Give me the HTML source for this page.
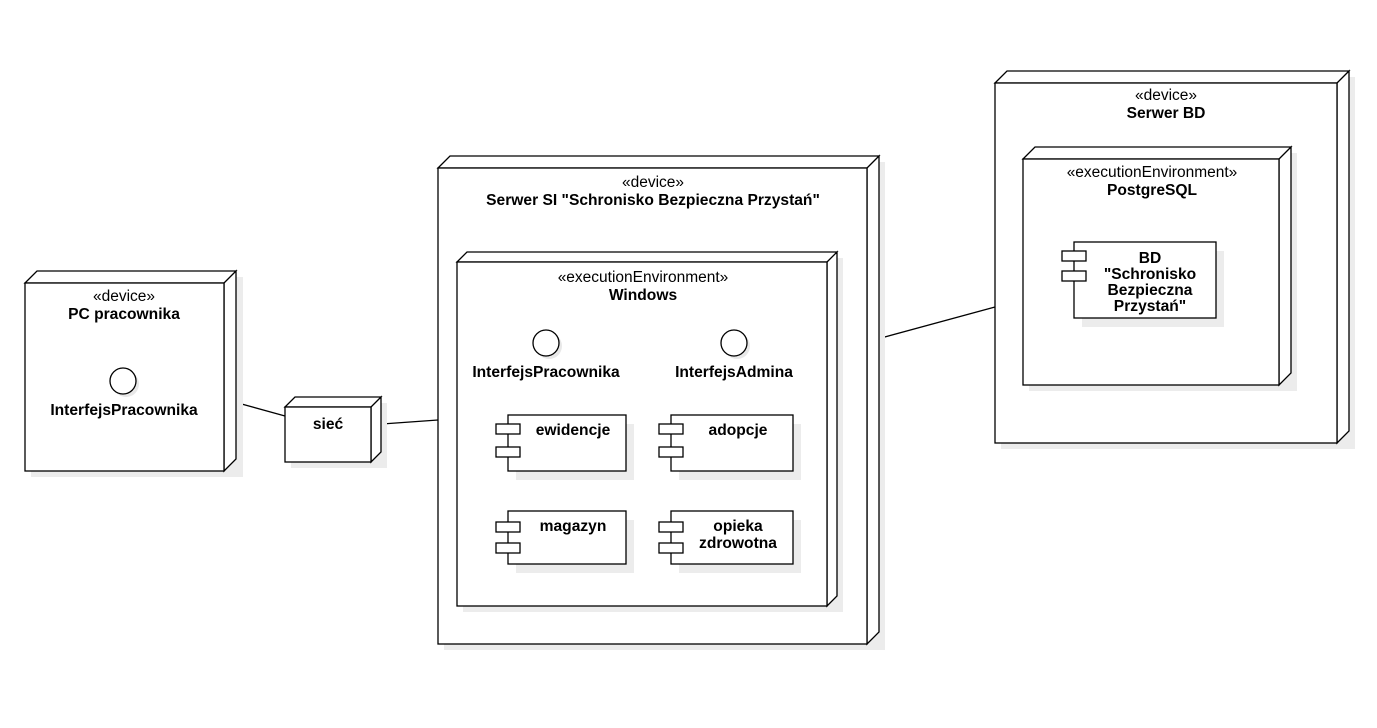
<!DOCTYPE html>
<html><head><meta charset="utf-8"><style>
html,body{margin:0;padding:0;background:#fff;}
svg{display:block;font-family:"Liberation Sans",Arial,sans-serif;}
.n{fill:#fff;stroke:#000;stroke-width:1.3;}
.c{fill:#fff;stroke:#000;stroke-width:1.3;}
.s{fill:#ececec;stroke:none;}
.st{font-size:15.5px;fill:#000;text-anchor:middle;}
.b{font-size:15.6px;font-weight:bold;fill:#000;text-anchor:middle;}
</style></head><body>
<svg width="1377" height="728" viewBox="0 0 1377 728">
<line x1="238" y1="403" x2="285" y2="416" stroke="#000" stroke-width="1.3"/>
<line x1="382" y1="424" x2="438" y2="420" stroke="#000" stroke-width="1.3"/>
<line x1="881" y1="338" x2="995" y2="307" stroke="#000" stroke-width="1.3"/>

<rect class="s" x="31" y="277" width="212" height="200"/>
<path class="n" d="M25,283 L37,271 L236,271 L224,283 Z M224,283 L236,271 L236,459 L224,471 Z"/>
<rect class="n" x="25" y="283" width="199" height="188"/>
<text class="st" x="124" y="301">«device»</text>
<text class="b" x="124" y="319">PC pracownika</text>
<circle cx="126" cy="384" r="13" fill="#e8e8e8"/>
<circle class="c" cx="123" cy="381" r="13"/>
<text class="b" x="124" y="415">InterfejsPracownika</text>

<rect class="s" x="291" y="403" width="96" height="65"/>
<path class="n" d="M285,407 L295,397 L381,397 L371,407 Z M371,407 L381,397 L381,452 L371,462 Z"/>
<rect class="n" x="285" y="407" width="86" height="55"/>
<text class="b" x="328" y="429">sieć</text>

<rect class="s" x="444" y="162" width="441" height="488"/>
<path class="n" d="M438,168 L450,156 L879,156 L867,168 Z M867,168 L879,156 L879,632 L867,644 Z"/>
<rect class="n" x="438" y="168" width="429" height="476"/>
<text class="st" x="653" y="187">«device»</text>
<text class="b" x="653" y="205">Serwer SI "Schronisko Bezpieczna Przystań"</text>

<rect class="s" x="463" y="258" width="380" height="354"/>
<path class="n" d="M457,262 L467,252 L837,252 L827,262 Z M827,262 L837,252 L837,596 L827,606 Z"/>
<rect class="n" x="457" y="262" width="370" height="344"/>
<text class="st" x="643" y="282">«executionEnvironment»</text>
<text class="b" x="643" y="300">Windows</text>
<circle cx="549" cy="346" r="13" fill="#e8e8e8"/>
<circle class="c" cx="546" cy="343" r="13"/>
<text class="b" x="546" y="377">InterfejsPracownika</text>
<circle cx="737" cy="346" r="13" fill="#e8e8e8"/>
<circle class="c" cx="734" cy="343" r="13"/>
<text class="b" x="734" y="377">InterfejsAdmina</text>

<rect class="s" x="516" y="424" width="118" height="56"/>
<rect class="c" x="508" y="415" width="118" height="56"/>
<rect class="c" x="496" y="424" width="24" height="10"/>
<rect class="c" x="496" y="447" width="24" height="10"/>
<text class="b" x="573" y="435">ewidencje</text>

<rect class="s" x="679" y="424" width="122" height="56"/>
<rect class="c" x="671" y="415" width="122" height="56"/>
<rect class="c" x="659" y="424" width="24" height="10"/>
<rect class="c" x="659" y="447" width="24" height="10"/>
<text class="b" x="738" y="435">adopcje</text>

<rect class="s" x="516" y="520" width="118" height="53"/>
<rect class="c" x="508" y="511" width="118" height="53"/>
<rect class="c" x="496" y="522" width="24" height="10"/>
<rect class="c" x="496" y="543" width="24" height="10"/>
<text class="b" x="573" y="531">magazyn</text>

<rect class="s" x="679" y="520" width="122" height="53"/>
<rect class="c" x="671" y="511" width="122" height="53"/>
<rect class="c" x="659" y="522" width="24" height="10"/>
<rect class="c" x="659" y="543" width="24" height="10"/>
<text class="b" x="738" y="531">opieka</text>
<text class="b" x="738" y="548">zdrowotna</text>

<rect class="s" x="1001" y="77" width="354" height="372"/>
<path class="n" d="M995,83 L1007,71 L1349,71 L1337,83 Z M1337,83 L1349,71 L1349,431 L1337,443 Z"/>
<rect class="n" x="995" y="83" width="342" height="360"/>
<text class="st" x="1166" y="100">«device»</text>
<text class="b" x="1166" y="118">Serwer BD</text>

<rect class="s" x="1029" y="153" width="268" height="238"/>
<path class="n" d="M1023,159 L1035,147 L1291,147 L1279,159 Z M1279,159 L1291,147 L1291,373 L1279,385 Z"/>
<rect class="n" x="1023" y="159" width="256" height="226"/>
<text class="st" x="1152" y="177">«executionEnvironment»</text>
<text class="b" x="1152" y="195">PostgreSQL</text>

<rect class="s" x="1082" y="251" width="142" height="76"/>
<rect class="c" x="1074" y="242" width="142" height="76"/>
<rect class="c" x="1062" y="251" width="24" height="10"/>
<rect class="c" x="1062" y="271" width="24" height="10"/>
<text class="b" x="1150" y="263">BD</text>
<text class="b" x="1150" y="279">"Schronisko</text>
<text class="b" x="1150" y="295">Bezpieczna</text>
<text class="b" x="1150" y="311">Przystań"</text>
</svg>
</body></html>
